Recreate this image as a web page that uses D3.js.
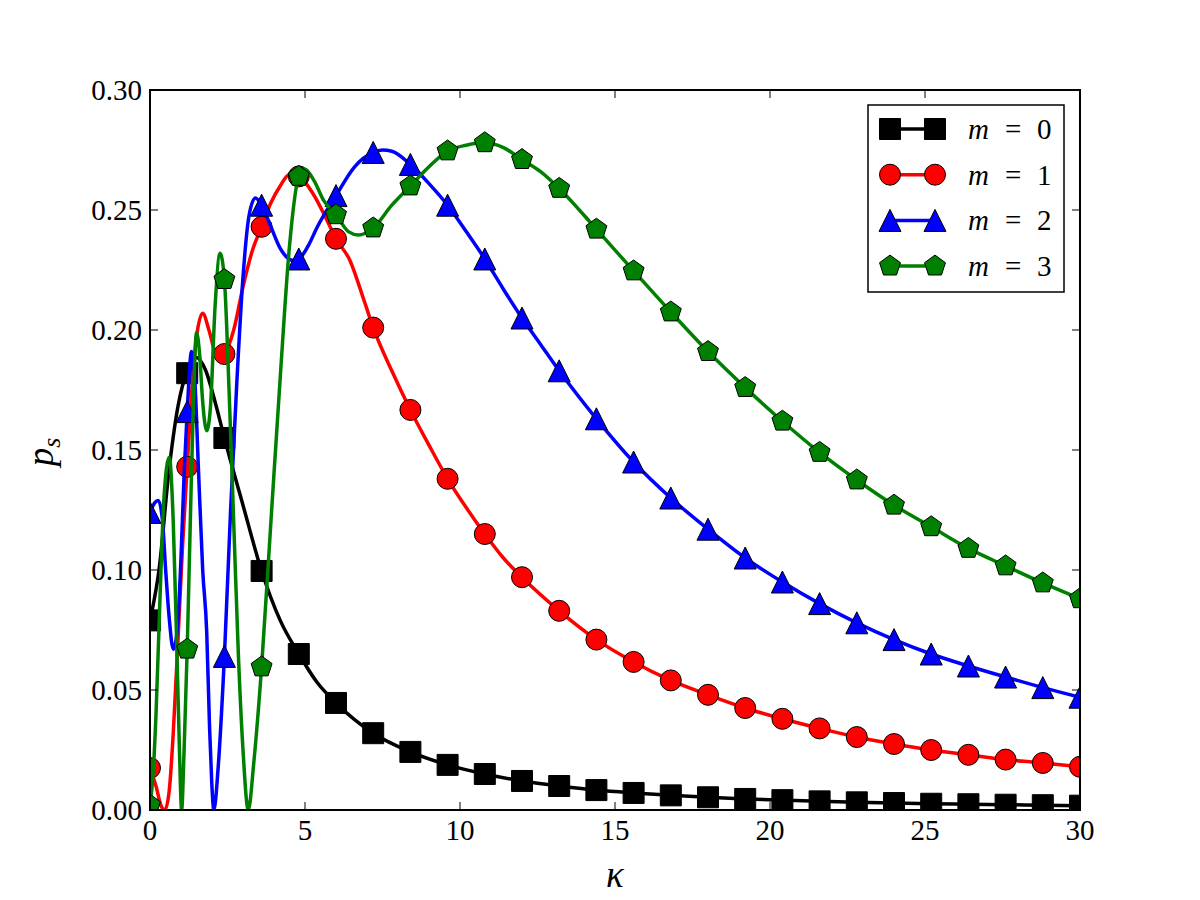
<!DOCTYPE html>
<html lang="en">
<head>
  <meta charset="UTF-8" />
  <title>p_s versus kappa</title>
  <script src="https://d3js.org/d3.v7.min.js"></script>
  <style>
    body {
      margin: 0;
      background-color: white;
    }
    svg {
      display: block;
    }
  </style>
</head>
<body>
  <svg></svg>

  <script>
    // marker positions (every 1.2 in kappa)
    const kappaMarks = [0, 1.2, 2.4, 3.6, 4.8, 6.0, 7.2, 8.4, 9.6, 10.8, 12.0, 13.2, 14.4,
      15.6, 16.8, 18.0, 19.2, 20.4, 21.6, 22.8, 24.0, 25.2, 26.4, 27.6, 28.8, 30.0];

    const m0Marks = [0.079, 0.182, 0.155, 0.0996, 0.065, 0.0446, 0.032, 0.0242, 0.0188, 0.015,
      0.0121, 0.010, 0.0083, 0.0071, 0.0061, 0.0053, 0.0046, 0.0041, 0.0036, 0.0032, 0.0029,
      0.0026, 0.0024, 0.0022, 0.002, 0.0018];
    const m1Marks = [0.0175, 0.143, 0.190, 0.243, 0.264, 0.238, 0.201, 0.1667, 0.138, 0.115,
      0.097, 0.083, 0.071, 0.0617, 0.054, 0.048, 0.0425, 0.038, 0.034, 0.0304, 0.0275,
      0.025, 0.023, 0.021, 0.0196, 0.018];
    const m2Marks = [0.124, 0.166, 0.064, 0.252, 0.2296, 0.256, 0.274, 0.269, 0.252, 0.2296,
      0.205, 0.183, 0.163, 0.145, 0.130, 0.117, 0.105, 0.095, 0.086, 0.078, 0.071,
      0.065, 0.060, 0.0554, 0.051, 0.047];
    const m3Marks = [0.002, 0.067, 0.221, 0.0596, 0.264, 0.248, 0.2425, 0.260, 0.2746, 0.278,
      0.271, 0.259, 0.242, 0.2246, 0.2075, 0.191, 0.176, 0.162, 0.149, 0.1375, 0.127,
      0.118, 0.109, 0.1017, 0.0946, 0.088];

    // curves as [kappa, p_s]
    const m0Line = [[0, 0.079], [0.3, 0.101], [0.6, 0.140], [0.9, 0.168], [1.2, 0.183], [1.5, 0.1885],
      [1.8, 0.183], [2.1, 0.170], [2.4, 0.155], [3.0, 0.127], [3.6, 0.0996], [4.2, 0.079], [4.8, 0.065],
      [5.4, 0.053], [6.0, 0.0446], [7.2, 0.032], [8.4, 0.0242], [9.6, 0.0188], [10.8, 0.015], [12, 0.0121],
      [13.2, 0.010], [14.4, 0.0083], [15.6, 0.0071], [16.8, 0.0061], [18, 0.0053], [19.2, 0.0046],
      [20.4, 0.0041], [21.6, 0.0036], [22.8, 0.0032], [24, 0.0029], [25.2, 0.0026], [26.4, 0.0024],
      [27.6, 0.0022], [28.8, 0.002], [30, 0.0018]];

    const m1Line = [[0, 0.0175], [0.2, 0.0097], [0.35, 0.002], [0.48, 0], [0.62, 0.008], [0.75, 0.032],
      [0.9, 0.07], [1.05, 0.11], [1.2, 0.143], [1.35, 0.175], [1.5, 0.197], [1.7, 0.207], [1.9, 0.200],
      [2.1, 0.191], [2.3, 0.189], [2.4, 0.190], [2.7, 0.200], [3.0, 0.218], [3.3, 0.233], [3.6, 0.243],
      [3.9, 0.253], [4.2, 0.260], [4.5, 0.2648], [4.8, 0.264], [5.25, 0.257], [5.7, 0.246], [6.0, 0.238],
      [6.45, 0.229], [6.9, 0.2125], [7.2, 0.201], [7.8, 0.183], [8.4, 0.1667], [9.0, 0.152], [9.6, 0.138],
      [10.2, 0.126], [10.8, 0.115], [11.4, 0.105], [12, 0.097], [13.2, 0.083], [14.4, 0.071],
      [15.6, 0.0617], [16.8, 0.054], [18, 0.048], [19.2, 0.0425], [20.4, 0.038], [21.6, 0.034],
      [22.8, 0.0304], [24, 0.0275], [25.2, 0.025], [26.4, 0.023], [27.6, 0.021], [28.8, 0.0196], [30, 0.018]];

    const m2Line = [[0, 0.124], [0.15, 0.128], [0.27, 0.129], [0.4, 0.121], [0.5, 0.101], [0.62, 0.08],
      [0.75, 0.067], [0.88, 0.075], [1.0, 0.105], [1.1, 0.14], [1.2, 0.166], [1.34, 0.191], [1.45, 0.178],
      [1.56, 0.143], [1.7, 0.10], [1.83, 0.074], [1.92, 0.035], [1.99, 0.012], [2.06, 0], [2.2, 0.018],
      [2.4, 0.064], [2.6, 0.125], [2.8, 0.178], [3.0, 0.222], [3.2, 0.248], [3.4, 0.255], [3.6, 0.252],
      [3.9, 0.243], [4.2, 0.234], [4.62, 0.229], [4.8, 0.2296], [5.1, 0.235], [5.4, 0.243], [6.0, 0.256],
      [6.6, 0.268], [7.2, 0.274], [7.5, 0.275], [7.8, 0.2745], [8.4, 0.269], [9.0, 0.261], [9.6, 0.252],
      [10.2, 0.241], [10.8, 0.2296], [11.4, 0.217], [12, 0.205], [12.6, 0.194], [13.2, 0.183],
      [14.4, 0.163], [15.6, 0.145], [16.8, 0.130], [18, 0.117], [19.2, 0.105], [20.4, 0.095],
      [21.6, 0.086], [22.8, 0.078], [24, 0.071], [25.2, 0.065], [26.4, 0.060], [27.6, 0.0554],
      [28.8, 0.051], [30, 0.047]];

    const m3Line = [[0, 0.002], [0.1, 0.015], [0.2, 0.042], [0.32, 0.0875], [0.45, 0.13], [0.62, 0.147],
      [0.75, 0.12], [0.85, 0.075], [0.95, 0.025], [1.02, 0], [1.1, 0.025], [1.2, 0.067], [1.3, 0.12],
      [1.4, 0.17], [1.5, 0.199], [1.6, 0.19], [1.7, 0.17], [1.83, 0.158], [1.95, 0.168], [2.1, 0.21],
      [2.26, 0.232], [2.4, 0.221], [2.55, 0.175], [2.7, 0.12], [2.85, 0.065], [3.0, 0.025], [3.17, 0],
      [3.35, 0.02], [3.6, 0.0596], [3.9, 0.12], [4.2, 0.18], [4.5, 0.235], [4.8, 0.264], [5.0, 0.267],
      [5.3, 0.262], [5.6, 0.254], [6.0, 0.248], [6.4, 0.241], [6.72, 0.2396], [7.2, 0.2425], [7.8, 0.252],
      [8.4, 0.260], [9.0, 0.268], [9.6, 0.2746], [10.2, 0.277], [10.8, 0.278], [11.4, 0.276], [12, 0.271],
      [12.6, 0.266], [13.2, 0.259], [14.4, 0.242], [15.6, 0.2246], [16.8, 0.2075], [18, 0.191],
      [19.2, 0.176], [20.4, 0.162], [21.6, 0.149], [22.8, 0.1375], [24, 0.127], [25.2, 0.118],
      [26.4, 0.109], [27.6, 0.1017], [28.8, 0.0946], [30, 0.088]];

    const xTicks = [0, 5, 10, 15, 20, 25, 30];
    const yTicks = [0, 0.05, 0.10, 0.15, 0.20, 0.25, 0.30];
    const seriesLabels = ["0", "1", "2", "3"];

    const width = 1200, height = 900;
    const plotLeft = 150, plotRight = 1080, plotTop = 90, plotBottom = 810;
    const serif = "'Liberation Serif', 'DejaVu Serif', serif";

    const svg = d3.select("svg")
      .attr("width", width)
      .attr("height", height)
      .attr("font-family", serif);

    const x = d3.scaleLinear().domain([0, 30]).range([plotLeft, plotRight]);
    const y = d3.scaleLinear().domain([0, 0.30]).range([plotBottom, plotTop]);

    // marker shapes
    function markerPath(shape) {
      const p = d3.path();
      if (shape === "square") {
        p.rect(-10.5, -10.5, 21, 21);
      } else if (shape === "circle") {
        p.moveTo(10.5, 0);
        p.arc(0, 0, 10.5, 0, 2 * Math.PI);
      } else if (shape === "triangle") {
        p.moveTo(0, -11); p.lineTo(11, 11); p.lineTo(-11, 11); p.closePath();
      } else {
        for (let i = 0; i < 5; i++) {
          const a = -Math.PI / 2 + i * 2 * Math.PI / 5;
          const px = 11 * Math.cos(a), py = 11 * Math.sin(a);
          if (i === 0) p.moveTo(px, py); else p.lineTo(px, py);
        }
        p.closePath();
      }
      return p.toString();
    }

    const series = [
      { label: seriesLabels[0], color: "#000000", shape: "square", line: m0Line, marks: m0Marks },
      { label: seriesLabels[1], color: "#ff0000", shape: "circle", line: m1Line, marks: m1Marks },
      { label: seriesLabels[2], color: "#0000ff", shape: "triangle", line: m2Line, marks: m2Marks },
      { label: seriesLabels[3], color: "#008000", shape: "pentagon", line: m3Line, marks: m3Marks }
    ];

    svg.append("defs").append("clipPath").attr("id", "plot-clip")
      .append("rect")
      .attr("x", plotLeft).attr("y", plotTop)
      .attr("width", plotRight - plotLeft).attr("height", plotBottom - plotTop);

    const line = d3.line()
      .x(d => x(d[0]))
      .y(d => y(d[1]))
      .curve(d3.curveMonotoneX);

    const plot = svg.append("g").attr("clip-path", "url(#plot-clip)");

    series.forEach(s => {
      const g = plot.append("g");
      g.append("path")
        .datum(s.line)
        .attr("d", line)
        .attr("fill", "none")
        .attr("stroke", s.color)
        .attr("stroke-width", 3.5)
        .attr("stroke-linejoin", "round");

      g.selectAll("path.mark")
        .data(s.marks.map((v, i) => [kappaMarks[i], v]))
        .enter().append("path")
        .attr("class", "mark")
        .attr("d", markerPath(s.shape))
        .attr("transform", d => `translate(${x(d[0])},${y(d[1])})`)
        .attr("fill", s.color)
        .attr("stroke", "#000")
        .attr("stroke-width", 1);
    });

    // ticks (inside, on all four sides)
    const ticks = svg.append("g").attr("stroke", "#000").attr("stroke-width", 1);
    xTicks.forEach(t => {
      ticks.append("line").attr("x1", x(t)).attr("x2", x(t)).attr("y1", plotBottom).attr("y2", plotBottom - 8);
      ticks.append("line").attr("x1", x(t)).attr("x2", x(t)).attr("y1", plotTop).attr("y2", plotTop + 8);
    });
    yTicks.forEach(t => {
      ticks.append("line").attr("x1", plotLeft).attr("x2", plotLeft + 8).attr("y1", y(t)).attr("y2", y(t));
      ticks.append("line").attr("x1", plotRight).attr("x2", plotRight - 8).attr("y1", y(t)).attr("y2", y(t));
    });

    // frame
    svg.append("rect")
      .attr("x", plotLeft).attr("y", plotTop)
      .attr("width", plotRight - plotLeft).attr("height", plotBottom - plotTop)
      .attr("fill", "none")
      .attr("stroke", "#000")
      .attr("stroke-width", 2);

    // tick labels
    svg.append("g").selectAll("text")
      .data(xTicks)
      .enter().append("text")
      .attr("x", d => x(d))
      .attr("y", 840)
      .attr("text-anchor", "middle")
      .attr("font-size", 29)
      .text(d => d);

    svg.append("g").selectAll("text")
      .data(yTicks)
      .enter().append("text")
      .attr("x", 142)
      .attr("y", d => y(d) + 10)
      .attr("text-anchor", "end")
      .attr("font-size", 29)
      .text(d => d3.format(".2f")(d));

    // axis labels
    svg.append("text")
      .attr("x", 615)
      .attr("y", 887)
      .attr("text-anchor", "middle")
      .attr("font-size", 37)
      .attr("font-style", "italic")
      .text("κ");

    const yl = svg.append("text")
      .attr("transform", "translate(53,452) rotate(-90)")
      .attr("text-anchor", "middle")
      .attr("font-size", 37)
      .attr("font-style", "italic");
    yl.append("tspan").text("p");
    yl.append("tspan").attr("font-size", 26).attr("dy", 7).text("s");

    // legend
    const legend = svg.append("g");
    legend.append("rect")
      .attr("x", 868).attr("y", 105)
      .attr("width", 196).attr("height", 187)
      .attr("fill", "white")
      .attr("stroke", "#000")
      .attr("stroke-width", 1.5);

    series.forEach((s, i) => {
      const ry = 129 + i * 45.7;
      const row = legend.append("g");
      row.append("line")
        .attr("x1", 890).attr("x2", 935)
        .attr("y1", ry).attr("y2", ry)
        .attr("stroke", s.color)
        .attr("stroke-width", 3.5);
      [890, 935].forEach(mx => {
        row.append("path")
          .attr("d", markerPath(s.shape))
          .attr("transform", `translate(${mx},${ry})`)
          .attr("fill", s.color)
          .attr("stroke", "#000")
          .attr("stroke-width", 1);
      });
      const t = row.append("text")
        .attr("y", ry + 10)
        .attr("font-size", 29);
      t.append("tspan").attr("x", 968).attr("font-style", "italic").text("m");
      t.append("tspan").attr("x", 1005).text("=");
      t.append("tspan").attr("x", 1037).text(s.label);
    });
  </script>
</body>
</html>
